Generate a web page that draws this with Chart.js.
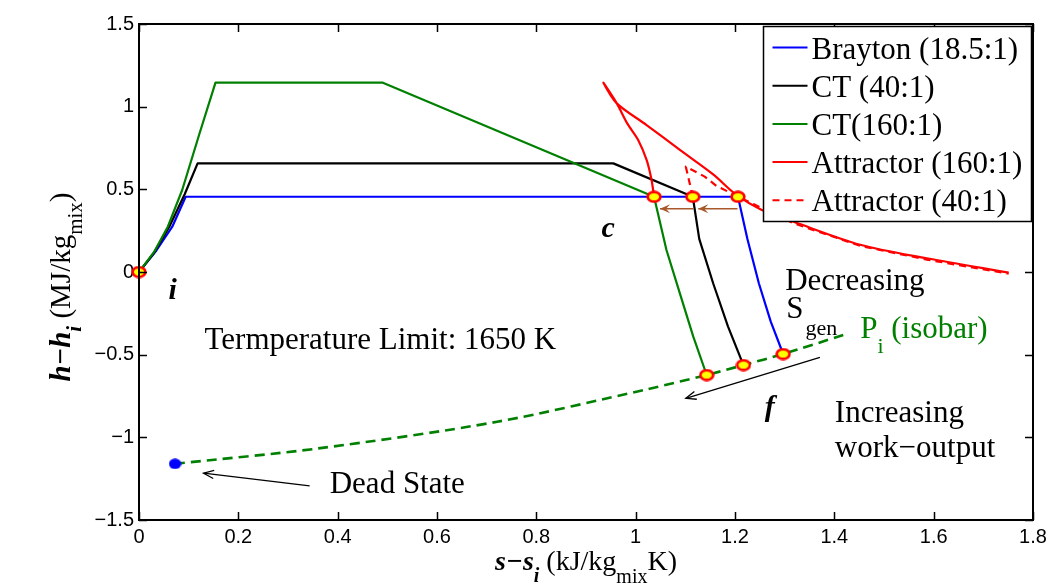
<!DOCTYPE html>
<html><head><meta charset="utf-8">
<script src="https://cdn.jsdelivr.net/npm/chart.js@4/dist/chart.umd.min.js"></script>
<style>html,body{margin:0;padding:0;background:#fff}#wrap{width:1061px;height:585px}</style>
</head><body><div id="wrap"><canvas id="c" width="1061" height="585"></canvas></div>
<script>
// ---- tick labels ----
const xTickLabels = ['0','0.2','0.4','0.6','0.8','1','1.2','1.4','1.6','1.8'];
const yTickLabels = ['\u22121.5','\u22121','\u22120.5','0','0.5','1','1.5'];

// ---- series (s - s_i in kJ/kg_mix K, h - h_i in MJ/kg_mix) ----
const braytonS = [0, 0.035, 0.067, 0.094, 1.206, 1.225, 1.248, 1.272, 1.297];
const braytonH = [0, 0.13, 0.274, 0.455, 0.455, 0.2, -0.068, -0.3, -0.496];

const ct40S = [0, 0.03, 0.061, 0.092, 0.118, 0.955, 1.115, 1.128, 1.156, 1.186, 1.217];
const ct40H = [0, 0.115, 0.274, 0.47, 0.657, 0.657, 0.455, 0.2, -0.068, -0.33, -0.563];

const ct160S = [0, 0.03, 0.058, 0.087, 0.122, 0.154, 0.491, 1.037, 1.062, 1.089, 1.116, 1.143];
const ct160H = [0, 0.12, 0.274, 0.496, 0.839, 1.145, 1.145, 0.455, 0.133, -0.129, -0.391, -0.623];

const attr160S = [1.037, 1.032, 1.022, 1.005, 0.983, 0.962, 0.935, 0.962, 1.022, 1.089, 1.156, 1.203, 1.254, 1.318, 1.452, 1.586, 1.751];
const attr160H = [0.455, 0.557, 0.678, 0.799, 0.899, 1.02, 1.145, 1.02, 0.889, 0.738, 0.59, 0.466, 0.375, 0.304, 0.165, 0.083, -0.004];

const attr40S = [1.115, 1.101, 1.139, 1.163, 1.237, 1.318, 1.452, 1.586, 1.751];
const attr40H = [0.455, 0.637, 0.577, 0.52, 0.411, 0.295, 0.158, 0.075, -0.01];

const isobarS = [0.0725, 0.361, 0.721, 1.022, 1.143, 1.217, 1.297, 1.418];
const isobarH = [-1.16, -1.067, -0.906, -0.71, -0.623, -0.563, -0.496, -0.381];

const stateS = [0, 1.037, 1.115, 1.206, 1.143, 1.217, 1.297];
const stateH = [0, 0.455, 0.455, 0.455, -0.623, -0.563, -0.496];

const deadS = [0.0725];
const deadH = [-1.16];

const legendLabels = ['Brayton (18.5:1)', 'CT (40:1)', 'CT(160:1)', 'Attractor (160:1)', 'Attractor (40:1)'];

// ---- annotations (data coordinates) ----
const arrows = [
  {s1: 0.3436, h1: -1.294, s2: 0.130, h2: -1.217, color: '#000', brown: false},
  {s1: 1.371, h1: -0.516, s2: 1.101, h2: -0.764, color: '#000', brown: false},
  {s1: 1.205, h1: 0.383, s2: 1.126, h2: 0.383, color: '#a8582a', brown: true},
  {s1: 1.116, h1: 0.383, s2: 1.049, h2: 0.383, color: '#a8582a', brown: true}
];

const SERIF = '"Liberation Serif", "Times New Roman", serif';
const notes = [
  {s: 0.0595, h: -0.163, parts: [{t: 'i', f: 'italic bold 30px ' + SERIF}]},
  {s: 0.931, h: 0.212, parts: [{t: 'c', f: 'italic bold 30px ' + SERIF}]},
  {s: 1.260, h: -0.871, parts: [{t: 'f', f: 'italic bold 30px ' + SERIF}]},
  {s: 0.132, h: -0.468, parts: [{t: 'Termperature Limit: 1650 K', f: '31px ' + SERIF}]},
  {s: 0.384, h: -1.337, parts: [{t: 'Dead State', f: '31px ' + SERIF}]},
  {s: 1.301, h: -0.109, parts: [{t: 'Decreasing', f: '31px ' + SERIF}]},
  {s: 1.303, h: -0.278, parts: [{t: 'S', f: '31px ' + SERIF}, {t: 'gen', f: '22px ' + SERIF, dy: 17, dx: 2}]},
  {s: 1.452, h: -0.399, color: '#008000', parts: [{t: 'P', f: '31px ' + SERIF}, {t: 'i', f: '22px ' + SERIF, dy: 15}, {t: ' (isobar)', f: '31px ' + SERIF}]},
  {s: 1.401, h: -0.905, parts: [{t: 'Increasing', f: '31px ' + SERIF}]},
  {s: 1.401, h: -1.117, parts: [{t: 'work\u2212output', f: '31px ' + SERIF}]}
];

function pts(xs, ys) { return xs.map((x, i) => ({x: x, y: ys[i]})); }

function ellipseImg(w, h, fill, stroke, lw) {
  const c = document.createElement('canvas'); c.width = w; c.height = h;
  const g = c.getContext('2d');
  g.beginPath();
  g.ellipse(w / 2, h / 2, w / 2 - lw / 2 - 0.3, h / 2 - lw / 2 - 0.3, 0, 0, Math.PI * 2);
  g.fillStyle = fill; g.fill();
  if (stroke) { g.lineWidth = lw; g.strokeStyle = stroke; g.stroke(); }
  return c;
}
const stateMarker = ellipseImg(16, 13, '#ffff00', '#ff0000', 2.6);
const deadMarker = ellipseImg(13, 11, '#0000ff', null, 0);

function drawParts(ctx, parts, x, y, color) {
  ctx.fillStyle = color || '#000';
  ctx.textBaseline = 'alphabetic';
  ctx.textAlign = 'left';
  let cx = x;
  parts.forEach(p => {
    ctx.font = p.f;
    cx += (p.dx || 0);
    ctx.fillText(p.t, cx, y + (p.dy || 0));
    cx += ctx.measureText(p.t).width;
  });
}
function partsWidth(ctx, parts) {
  let w = 0;
  parts.forEach(p => { ctx.font = p.f; w += (p.dx || 0) + ctx.measureText(p.t).width; });
  return w;
}

function drawArrow(ctx, x1, y1, x2, y2, color, brown) {
  ctx.save();
  ctx.strokeStyle = color; ctx.fillStyle = color;
  ctx.lineWidth = brown ? 1.6 : 1.3;
  ctx.beginPath(); ctx.moveTo(x1, y1); ctx.lineTo(x2, y2); ctx.stroke();
  const a = Math.atan2(y2 - y1, x2 - x1);
  if (brown) {
    const L = 11, w = 0.42;
    ctx.beginPath();
    ctx.moveTo(x2, y2);
    ctx.lineTo(x2 - L * Math.cos(a - w), y2 - L * Math.sin(a - w));
    ctx.lineTo(x2 - 0.55 * L * Math.cos(a), y2 - 0.55 * L * Math.sin(a));
    ctx.lineTo(x2 - L * Math.cos(a + w), y2 - L * Math.sin(a + w));
    ctx.closePath(); ctx.fill();
  } else {
    const L = 11, w = 0.38;
    ctx.beginPath();
    ctx.moveTo(x2 - L * Math.cos(a - w), y2 - L * Math.sin(a - w));
    ctx.lineTo(x2, y2);
    ctx.lineTo(x2 - L * Math.cos(a + w), y2 - L * Math.sin(a + w));
    ctx.stroke();
  }
  ctx.restore();
}

const overlay = {
  id: 'overlay',
  afterDatasetsDraw(chart) {
    const ctx = chart.ctx, xs = chart.scales.x, ys = chart.scales.y;
    arrows.forEach(a => drawArrow(ctx, xs.getPixelForValue(a.s1), ys.getPixelForValue(a.h1),
      xs.getPixelForValue(a.s2), ys.getPixelForValue(a.h2), a.color, a.brown));
    notes.forEach(n => drawParts(ctx, n.parts, xs.getPixelForValue(n.s), ys.getPixelForValue(n.h), n.color));
  },
  afterDraw(chart) {
    const ctx = chart.ctx, xs = chart.scales.x, ys = chart.scales.y, ca = chart.chartArea;
    ctx.save();
    // ticks (inward, all four sides)
    ctx.strokeStyle = '#000'; ctx.lineWidth = 1.5;
    const TL = 8;
    xs.ticks.forEach(t => {
      const px = Math.round(xs.getPixelForValue(t.value)) + 0.5;
      ctx.beginPath(); ctx.moveTo(px, ca.bottom); ctx.lineTo(px, ca.bottom - TL);
      ctx.moveTo(px, ca.top); ctx.lineTo(px, ca.top + TL); ctx.stroke();
    });
    ys.ticks.forEach(t => {
      const py = Math.round(ys.getPixelForValue(t.value)) + 0.5;
      ctx.beginPath(); ctx.moveTo(ca.left, py); ctx.lineTo(ca.left + TL, py);
      ctx.moveTo(ca.right, py); ctx.lineTo(ca.right - TL, py); ctx.stroke();
    });
    // box
    ctx.lineWidth = 2;
    ctx.strokeRect(ca.left, ca.top, ca.right - ca.left, ca.bottom - ca.top);

    // x title
    const xParts = [
      {t: 's\u2212s', f: 'italic bold 28px ' + SERIF},
      {t: 'i', f: 'italic bold 20px ' + SERIF, dy: 12},
      {t: ' (kJ/kg', f: '28px ' + SERIF},
      {t: 'mix', f: '20px ' + SERIF, dy: 13},
      {t: 'K)', f: '28px ' + SERIF}
    ];
    const xw = partsWidth(ctx, xParts);
    drawParts(ctx, xParts, (ca.left + ca.right) / 2 - xw / 2, 570, '#000');
    // y title
    const yParts = [
      {t: 'h\u2212h', f: 'italic bold 29px ' + SERIF},
      {t: 'i', f: 'italic bold 21px ' + SERIF, dy: 11},
      {t: ' (MJ/kg', f: '29px ' + SERIF},
      {t: 'mix', f: '21px ' + SERIF, dy: 12},
      {t: ')', f: '29px ' + SERIF}
    ];
    const yw = partsWidth(ctx, yParts);
    ctx.save();
    ctx.translate(70, 287 + yw / 2);
    ctx.rotate(-Math.PI / 2);
    drawParts(ctx, yParts, 0, 0, '#000');
    ctx.restore();

    // legend
    const lx = 763.5, ly = ca.top + 2.5, lw = ca.right - 1.5 - lx, lh = 195;
    ctx.fillStyle = '#fff';
    ctx.fillRect(lx, ly, lw, lh);
    ctx.lineWidth = 1.5; ctx.strokeStyle = '#000';
    ctx.strokeRect(lx, ly, lw, lh);
    const dsets = chart.data.datasets;
    legendLabels.forEach((lab, i) => {
      const d = dsets[i];
      const yLine = ly + 21 + i * 38.2;
      ctx.save();
      ctx.strokeStyle = d.borderColor; ctx.lineWidth = 2;
      ctx.setLineDash(d.borderDash || []);
      ctx.beginPath(); ctx.moveTo(lx + 9, yLine); ctx.lineTo(lx + 44, yLine); ctx.stroke();
      ctx.restore();
      ctx.fillStyle = '#000'; ctx.font = '31px ' + SERIF;
      ctx.textAlign = 'left'; ctx.textBaseline = 'alphabetic';
      ctx.fillText(lab, lx + 48, yLine + 11);
    });
    ctx.restore();
  }
};

const lineBase = {showLine: true, pointRadius: 0, borderWidth: 2.2, tension: 0, fill: false, borderJoinStyle: 'round'};

new Chart(document.getElementById('c'), {
  type: 'scatter',
  data: {
    datasets: [
      Object.assign({label: legendLabels[0], data: pts(braytonS, braytonH), borderColor: '#0000ff', order: 6}, lineBase),
      Object.assign({label: legendLabels[1], data: pts(ct40S, ct40H), borderColor: '#000000', order: 5}, lineBase),
      Object.assign({label: legendLabels[2], data: pts(ct160S, ct160H), borderColor: '#008000', order: 4}, lineBase),
      Object.assign({}, lineBase, {label: legendLabels[3], data: pts(attr160S, attr160H), borderColor: '#ff0000', order: 3, tension: 0.3}),
      Object.assign({label: legendLabels[4], data: pts(attr40S, attr40H), borderColor: '#ff0000', borderDash: [7, 5], order: 2}, lineBase),
      Object.assign({}, lineBase, {label: 'Pi (isobar)', data: pts(isobarS, isobarH), borderColor: '#008000', borderDash: [10, 6], borderWidth: 2.6, order: 7, tension: 0.3}),
      {label: 'states', data: pts(stateS, stateH), showLine: false, pointStyle: stateMarker, pointRadius: 6, clip: false, order: 0},
      {label: 'Dead State', data: pts(deadS, deadH), showLine: false, pointStyle: deadMarker, pointRadius: 6, clip: false, order: 1}
    ]
  },
  options: {
    responsive: false,
    animation: false,
    events: [],
    layout: {padding: {left: 0, right: 28, top: 24, bottom: 0}},
    plugins: {legend: {display: false}, tooltip: {enabled: false}},
    scales: {
      x: {
        type: 'linear', min: 0, max: 1.8,
        afterFit: s => { s.height = 65; },
        grid: {display: false, drawTicks: false},
        border: {display: false},
        ticks: {stepSize: 0.2, autoSkip: false, maxRotation: 0, padding: 5, color: '#000',
          font: {family: '"Liberation Sans", Arial, sans-serif', size: 20},
          callback: (v, i) => xTickLabels[i]}
      },
      y: {
        type: 'linear', min: -1.5, max: 1.5,
        afterFit: s => { s.width = 139; },
        grid: {display: false, drawTicks: false},
        border: {display: false},
        ticks: {stepSize: 0.5, autoSkip: false, padding: 5, color: '#000',
          font: {family: '"Liberation Sans", Arial, sans-serif', size: 20},
          callback: (v, i) => yTickLabels[i]}
      }
    }
  },
  plugins: [overlay]
});
</script>
</body></html>
